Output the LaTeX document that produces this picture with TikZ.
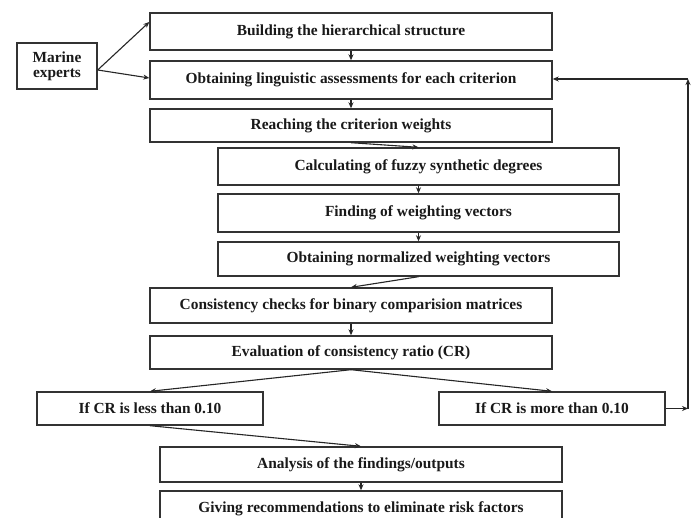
\documentclass[tikz,border=0pt]{standalone}
\usepackage{fontspec}
\setmainfont{Liberation Serif}
\usetikzlibrary{arrows.meta}
\tikzset{
  box/.style={draw=black!80, line width=1.4pt, fill=white, inner sep=0pt, font=\fontsize{15.4pt}{17pt}\selectfont\bfseries, text=black!90},
  arr/.style={draw=black!85, line width=1.1pt, -{Stealth[length=6pt,width=5pt]}}
}
\begin{document}
\begin{tikzpicture}[x=1pt,y=-1pt]
\clip (0,0) rectangle (696,518);
\fill[white] (0,0) rectangle (696,518);
\node[box, minimum width=80pt, minimum height=46pt, align=center, font=\fontsize{15.4pt}{15pt}\selectfont\bfseries] (me) at (57,66) {Marine\\experts};
\node[box, minimum width=402pt, minimum height=37pt] (b1) at (351,31.5) {Building the hierarchical structure};
\node[box, minimum width=402pt, minimum height=38pt] (b2) at (351,80) {Obtaining linguistic assessments for each criterion};
\node[box, minimum width=402pt, minimum height=33pt] (b3) at (351,125.5) {Reaching the criterion weights};
\node[box, minimum width=401pt, minimum height=37pt] (b4) at (418.5,166.5) {Calculating of fuzzy synthetic degrees};
\node[box, minimum width=401pt, minimum height=38pt] (b5) at (418.5,213) {Finding of weighting vectors};
\node[box, minimum width=401pt, minimum height=34pt] (b6) at (418.5,259) {Obtaining normalized weighting vectors};
\node[box, minimum width=402pt, minimum height=35pt] (b7) at (351,305.5) {Consistency checks for binary comparision matrices};
\node[box, minimum width=402pt, minimum height=33pt] (b8) at (351,352.5) {Evaluation of consistency ratio (CR)};
\node[box, minimum width=226pt, minimum height=33pt] (b9) at (150,408.5) {If CR is less than 0.10};
\node[box, minimum width=226pt, minimum height=33pt] (b10) at (552,408.5) {If CR is more than 0.10};
\node[box, minimum width=402pt, minimum height=35pt] (b11) at (361,464.5) {Analysis of the findings/outputs};
\node[box, minimum width=402pt, minimum height=35pt] (b12) at (361,508.5) {Giving recommendations to eliminate risk factors};
\coordinate (fa) at (688,408.5);
\coordinate (fb) at (688,79);
\draw[arr] ([yshift=-4pt]me.east) -- ([yshift=9.5pt]b1.west);
\draw[arr] ([yshift=-4pt]me.east) -- ([yshift=2pt]b2.west);
\draw[arr] (b1.south) -- (b2.north);
\draw[arr] (b2.south) -- (b3.north);
\draw[arr] (b3.south) -- (b4.north);
\draw[arr] (b4.south) -- (b5.north);
\draw[arr] (b5.south) -- (b6.north);
\draw[arr] (b6.south) -- (b7.north);
\draw[arr] (b7.south) -- (b8.north);
\draw[arr] (b8.south) -- (b9.north);
\draw[arr] (b8.south) -- (b10.north);
\draw[arr] (b9.south) -- (b11.north);
\draw[arr] (b11.south) -- (b12.north);
\draw[arr] (b10.east) -- (fa);
\draw[arr] (fa) -- (fb);
\draw[arr] (fb) -- (b2.east |- fb);
\end{tikzpicture}
\end{document}
